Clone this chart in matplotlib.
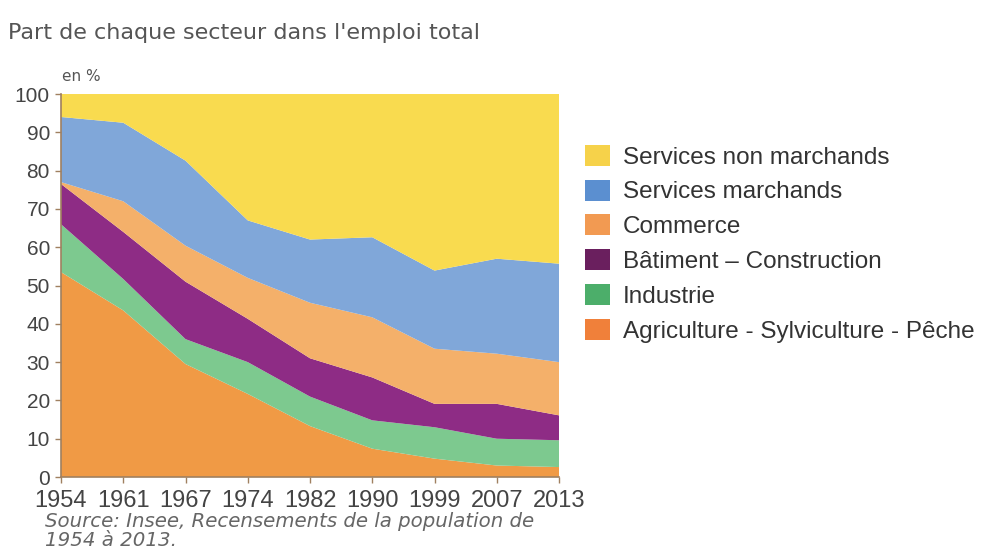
import matplotlib.pyplot as plt
from matplotlib.patches import Patch

# Part de chaque secteur dans l'emploi total (en %)
years = ['1954', '1961', '1967', '1974', '1982', '1990', '1999', '2007', '2013']
agriculture = [53.5, 43.5, 29.5, 21.7, 13.3, 7.4, 4.8, 3.0, 2.6]
industrie = [12.5, 8.2, 6.5, 8.3, 7.7, 7.4, 8.2, 7.0, 7.0]
batiment = [10.5, 12.3, 15.0, 11.3, 10.0, 11.2, 6.1, 9.1, 6.5]
commerce = [0.5, 8.0, 9.4, 10.7, 14.5, 15.7, 14.4, 13.1, 13.9]
services_marchands = [17.0, 20.5, 22.2, 15.0, 16.5, 20.9, 20.4, 24.8, 25.7]
services_non_marchands = [6.0, 7.5, 17.4, 33.0, 38.0, 37.4, 46.1, 43.0, 44.3]

labels = ['Services non marchands', 'Services marchands', 'Commerce',
          'Bâtiment – Construction', 'Industrie',
          'Agriculture - Sylviculture - Pêche']
area_colors = ['#f9db4f', '#80a7d9', '#f4b06a', '#8e2c85', '#7dc98f', '#f09a45']
legend_colors = ['#f6d24a', '#5b8fd0', '#f29a52', '#6a1f5e', '#4cae6a', '#f0803a']

x = range(len(years))

fig = plt.figure(figsize=(9.87, 5.53), dpi=100)
ax = fig.add_axes([0.0618, 0.1374, 0.5046, 0.6926])

# stacked from the bottom: agriculture first
ax.stackplot(x, agriculture, industrie, batiment, commerce,
             services_marchands, services_non_marchands,
             colors=area_colors[::-1], linewidth=0)

ax.set_xlim(0, len(years) - 1)
ax.set_ylim(0, 100)
ax.set_xticks(list(x))
ax.set_xticklabels(years)
ax.set_yticks(range(0, 101, 10))

for side in ['top', 'right']:
    ax.spines[side].set_visible(False)
for side in ['left', 'bottom']:
    ax.spines[side].set_color('#a08060')
    ax.spines[side].set_linewidth(1.2)
ax.tick_params(axis='both', colors='#444444', length=4, width=1)
ax.tick_params(axis='both', color='#a08060')
ax.tick_params(axis='x', pad=5, labelsize=17)
ax.tick_params(axis='y', pad=4, labelsize=15)
for lbl in ax.get_xticklabels() + ax.get_yticklabels():
    lbl.set_family('Liberation Sans')

fig.text(0.008, 0.94, "Part de chaque secteur dans l'emploi total",
         fontsize=16, color='#555555', va='center')
fig.text(0.063, 0.862, 'en %', fontsize=11, color='#555555', va='center')
fig.text(0.046, 0.040, 'Source: Insee, Recensements de la population de\n1954 à 2013.',
         fontsize=14.2, style='italic', color='#666666', va='center',
         linespacing=1.0)

handles = [Patch(facecolor=c, edgecolor='none') for c in legend_colors]
leg = fig.legend(handles, labels, loc='upper left',
                 bbox_to_anchor=(0.5927, 0.738), frameon=False,
                 prop={'family': 'Liberation Sans', 'size': 17.5},
                 handlelength=1.03, handleheight=0.95, handletextpad=0.53,
                 labelspacing=0.45, borderaxespad=0, borderpad=0)
for t in leg.get_texts():
    t.set_color('#333333')

plt.savefig('out.png', dpi=100)
